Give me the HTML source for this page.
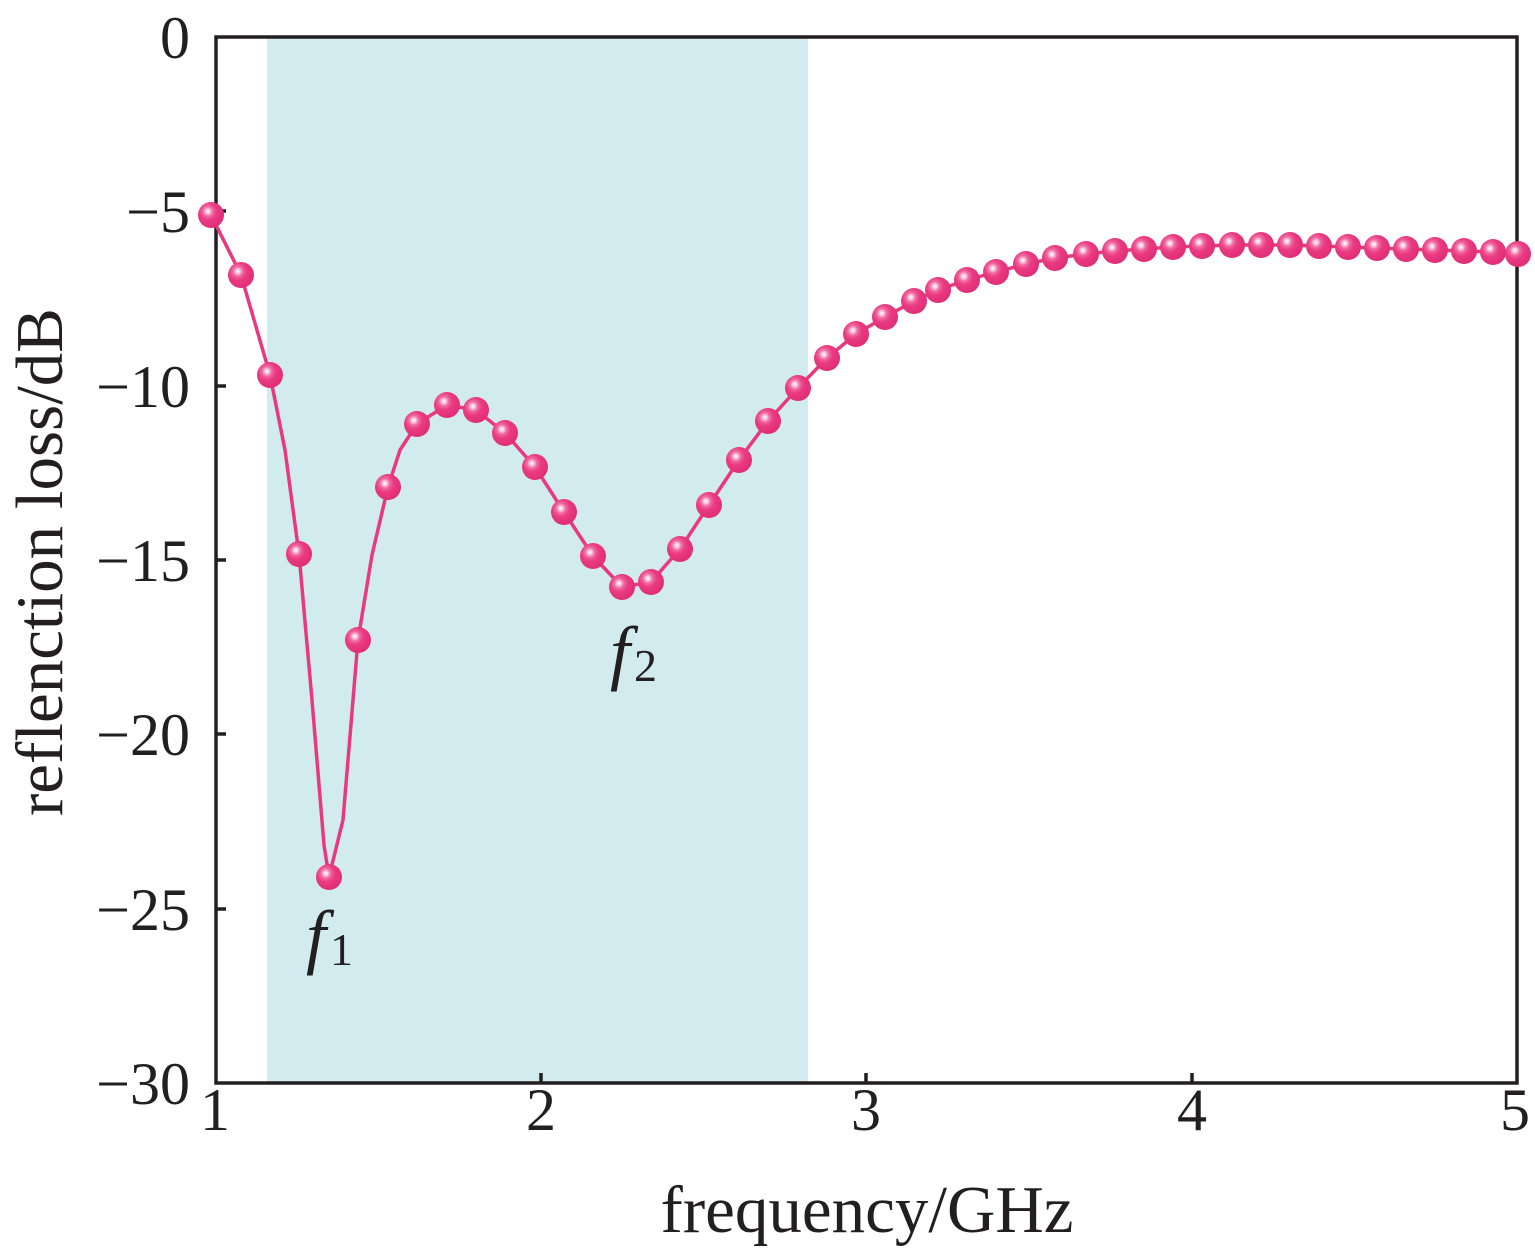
<!DOCTYPE html>
<html><head><meta charset="utf-8"><style>html,body{margin:0;padding:0;background:#fff}svg{display:block}</style></head>
<body>
<svg width="1535" height="1251" viewBox="0 0 1535 1251" xmlns="http://www.w3.org/2000/svg" font-family="Liberation Serif, serif" fill="#231f20">
<defs>
<radialGradient id="g" cx="0.38" cy="0.36" r="0.62">
<stop offset="0" stop-color="#ffffff"/>
<stop offset="0.12" stop-color="#fbd0e2"/>
<stop offset="0.3" stop-color="#f06aa2"/>
<stop offset="0.55" stop-color="#ea3a82"/>
<stop offset="1" stop-color="#e02f78"/>
</radialGradient>
</defs>
<rect x="267" y="37" width="541" height="1046" fill="#d1ebee"/>
<g stroke="#231f20" stroke-width="3.5" fill="none">
<rect x="216" y="37" width="1301" height="1046"/>
<path d="M216 211h10M216 386h10M216 560h10M216 734h10M216 909h10M541 1083v-10M866 1083v-10M1192 1083v-10"/>
</g>
<polyline fill="none" stroke="#e8397f" stroke-width="3.5" stroke-linejoin="round" points="211,215 241,275 270,375 285,450 299,554 312,700 324,845 329,877 343,820 358,640 372,555 388,487 400,450 417,424 447,405 476,410 505,433 535,467 564,512 593,556 622,587 651,582 680,549 709,505 739,460 768,421 798,388 827,358 856,334 885,317 914,301 938,290 967,280 996,272 1026,264 1055,258 1086,254 1115,251 1144,249 1173,247 1202,246 1232,245 1261,245 1290,245 1319,246 1348,247 1377,248 1406,249 1435,250 1464,251 1493,252 1518,254"/>
<g fill="url(#g)">
<circle cx="211" cy="215" r="13"/><circle cx="241" cy="275" r="13"/><circle cx="270" cy="375" r="13"/><circle cx="299" cy="554" r="13"/><circle cx="329" cy="877" r="13"/><circle cx="358" cy="640" r="13"/><circle cx="388" cy="487" r="13"/><circle cx="417" cy="424" r="13"/><circle cx="447" cy="405" r="13"/><circle cx="476" cy="410" r="13"/><circle cx="505" cy="433" r="13"/><circle cx="535" cy="467" r="13"/><circle cx="564" cy="512" r="13"/><circle cx="593" cy="556" r="13"/><circle cx="622" cy="587" r="13"/><circle cx="651" cy="582" r="13"/><circle cx="680" cy="549" r="13"/><circle cx="709" cy="505" r="13"/><circle cx="739" cy="460" r="13"/><circle cx="768" cy="421" r="13"/><circle cx="798" cy="388" r="13"/><circle cx="827" cy="358" r="13"/><circle cx="856" cy="334" r="13"/><circle cx="885" cy="317" r="13"/><circle cx="914" cy="301" r="13"/><circle cx="938" cy="290" r="13"/><circle cx="967" cy="280" r="13"/><circle cx="996" cy="272" r="13"/><circle cx="1026" cy="264" r="13"/><circle cx="1055" cy="258" r="13"/><circle cx="1086" cy="254" r="13"/><circle cx="1115" cy="251" r="13"/><circle cx="1144" cy="249" r="13"/><circle cx="1173" cy="247" r="13"/><circle cx="1202" cy="246" r="13"/><circle cx="1232" cy="245" r="13"/><circle cx="1261" cy="245" r="13"/><circle cx="1290" cy="245" r="13"/><circle cx="1319" cy="246" r="13"/><circle cx="1348" cy="247" r="13"/><circle cx="1377" cy="248" r="13"/><circle cx="1406" cy="249" r="13"/><circle cx="1435" cy="250" r="13"/><circle cx="1464" cy="251" r="13"/><circle cx="1493" cy="252" r="13"/><circle cx="1518" cy="254" r="13"/>
</g>
<g font-size="60" text-anchor="end">
<text x="190" y="58">0</text>
<text x="190" y="232">−5</text>
<text x="190" y="407">−10</text>
<text x="190" y="581">−15</text>
<text x="190" y="755">−20</text>
<text x="190" y="930">−25</text>
<text x="190" y="1104">−30</text>
</g>
<g font-size="60" text-anchor="middle">
<text x="215" y="1130">1</text>
<text x="541" y="1130">2</text>
<text x="866" y="1130">3</text>
<text x="1192" y="1130">4</text>
<text x="1515" y="1130">5</text>
</g>
<text x="867" y="1232" font-size="67" text-anchor="middle">frequency/GHz</text>
<text transform="translate(62,562) rotate(-90)" font-size="67" text-anchor="middle">reflenction loss/dB</text>
<text x="306" y="960" font-size="72" font-style="italic">f</text><text x="330" y="965" font-size="46">1</text>
<text x="610" y="676" font-size="72" font-style="italic">f</text><text x="634" y="681" font-size="46">2</text>
</svg>
</body></html>
